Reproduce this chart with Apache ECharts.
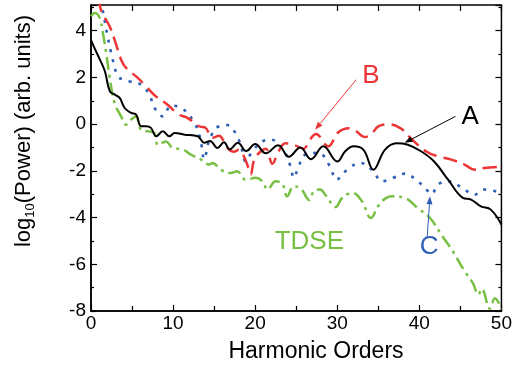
<!DOCTYPE html>
<html>
<head>
<meta charset="utf-8">
<script src="https://cdn.jsdelivr.net/npm/echarts@6/dist/echarts.min.js"></script>
<style>
  html, body { margin: 0; padding: 0; background: #fff; }
  #chart { width: 515px; height: 366px; }
</style>
</head>
<body>
<div id="chart"></div>
<script>
// curve A (solid black)
const orderA = [0, 0.5, 1.1, 1.7, 2.3, 2.9, 3.5, 4.1, 4.9, 5.5, 6.1, 6.7, 7.3, 7.95, 8.75, 9.55, 10.2, 11.4, 13.0, 13.8, 14.5, 15.4, 16.2, 16.9, 17.9, 18.9, 20.0, 21.3, 22.8, 24.1, 25.5, 26.8, 28.3, 30.0, 31.0, 32.0, 33.2, 34.4, 35.8, 37.2, 38.6, 40.2, 41.8, 43.5, 45.3, 46.3, 47.5, 48.7, 50];
const powerA = [3.6, 3.2, 2.75, 2.25, 1.4, 1.26, 1.12, 0.69, 0.48, 0.41, -0.09, -0.09, -0.16, -0.52, -0.31, -0.52, -0.38, -0.45, -0.52, -0.8, -0.72, -1.02, -0.78, -1.08, -0.8, -1.15, -0.85, -1.25, -0.9, -1.4, -1.0, -1.5, -0.95, -1.6, -1.15, -0.95, -1.1, -1.95, -1.1, -0.82, -0.88, -1.16, -1.6, -2.38, -3.16, -3.23, -3.52, -3.66, -4.3];

// curve B (red dashed)
const orderB = [1.0, 1.25, 2.26, 2.87, 3.67, 4.27, 5.7, 6.7, 7.9, 9.3, 10.7, 11.75, 13.15, 13.96, 14.8, 15.6, 16.2, 16.8, 17.4, 18.0, 18.9, 19.45, 19.9, 20.7, 21.3, 22.1, 22.8, 23.7, 24.8, 25.9, 26.6, 27.4, 28.9, 30.1, 31.4, 32.3, 33.3, 34.1, 35.0, 36.4, 37.8, 39.0, 40.8, 42.25, 43.9, 45.5, 46.7, 47.9, 50];
const powerB = [5.4, 4.85, 4.19, 3.62, 2.76, 2.41, 1.98, 1.62, 1.19, 0.84, 0.41, 0.27, -0.09, -0.16, -0.59, -0.5, -0.74, -1.09, -1.18, -1.1, -1.6, -2.15, -1.5, -1.16, -1.05, -1.7, -1.2, -0.82, -0.9, -1.05, -0.7, -0.42, -0.95, -0.36, -0.18, -0.3, -0.55, -0.45, -0.1, -0.01, -0.2, -0.62, -1.16, -1.38, -1.52, -1.73, -1.95, -1.88, -1.82];

// curve C (blue dotted)
const orderC = [1.2, 1.45, 2.06, 2.46, 3.27, 4.0, 4.7, 6.1, 7.1, 7.75, 8.75, 9.77, 11.2, 12.6, 13.3, 13.8, 14.3, 14.8, 15.2, 16.6, 17.8, 18.4, 18.85, 19.65, 20.9, 21.9, 23.5, 24.3, 24.7, 25.3, 26.1, 27.7, 29.1, 29.9, 31.2, 32.8, 34.4, 35.4, 36.8, 38.2, 39.6, 41.0, 41.5, 42.25, 43.5, 45.1, 46.7, 47.9, 50];
const powerC = [5.3, 4.83, 3.69, 3.05, 2.05, 1.9, 1.83, 1.69, 1.26, 0.69, 0.33, 0.79, 0.65, 0.05, -0.6, -1.5, -0.8, -0.38, -0.16, -0.04, -0.52, -1.1, -1.6, -1.16, -0.74, -0.66, -1.16, -1.8, -2.3, -1.8, -1.31, -1.23, -1.8, -2.38, -1.95, -1.66, -2.02, -2.45, -2.3, -2.12, -2.38, -2.85, -3.0, -2.59, -2.45, -2.69, -3.02, -2.8, -2.95];

// TDSE (green dash-dot)
const orderT = [0, 0.45, 1.05, 1.45, 1.85, 2.26, 2.87, 3.67, 4.27, 4.88, 5.48, 6.1, 7.1, 7.7, 8.2, 9.1, 9.96, 11.2, 12.2, 13.4, 14.4, 14.8, 15.8, 17.0, 17.8, 18.85, 20.1, 20.9, 21.5, 22.5, 23.3, 23.9, 24.7, 25.6, 26.6, 27.2, 27.9, 28.6, 29.8, 30.5, 31.2, 31.9, 33.0, 34.1, 35.0, 35.8, 36.6, 38.2, 39.9, 41.3, 42.8, 44.0, 45.4, 46.5, 47.2, 47.6, 48.6, 49.2, 50];
const powerT = [4.62, 4.76, 4.55, 3.9, 3.05, 2.05, 0.91, 0.33, -0.02, 0.19, 0.33, -0.24, -0.31, -0.38, -0.9, -0.74, -1.02, -1.09, -1.31, -1.52, -1.73, -1.66, -1.95, -2.09, -2.02, -2.38, -2.3, -2.45, -2.8, -2.45, -2.55, -3.09, -2.66, -2.78, -3.25, -2.85, -2.8, -3.05, -3.55, -3.2, -3.0, -2.95, -3.3, -4.02, -3.5, -3.2, -3.09, -3.16, -3.62, -4.02, -4.8, -5.4, -6.23, -6.8, -7.3, -7.05, -7.9, -7.45, -7.9];

const xTicks = [0, 10, 20, 30, 40, 50];
const yTicks = [-8, -6, -4, -2, 0, 2, 4];

const pairs = (xs, ys) => xs.map((x, i) => [x, ys[i]]);

const chart = echarts.init(document.getElementById('chart'));
const font = 'Liberation Sans, Arial, sans-serif';
const tickStyle = { color: '#000', width: 1.2 };

chart.setOption({
    animation: false,
    grid: { left: 91, right: 11, top: 5, bottom: 55, show: true, borderColor: '#000', borderWidth: 1.5 },
    xAxis: [
        { type: 'value', position: 'bottom', min: 0, max: 50, interval: 10,
          axisLine: { show: true, onZero: false, lineStyle: { color: '#000', width: 1.5 } },
          axisTick: { inside: true, length: 6, lineStyle: tickStyle },
          minorTick: { show: true, splitNumber: 2, length: 5, lineStyle: tickStyle },
          splitLine: { show: false },
          axisLabel: { color: '#000', fontSize: 19, fontFamily: font, margin: 3,
              formatter: v => (xTicks.indexOf(v) >= 0 ? String(v) : '') } },
        { type: 'value', position: 'top', min: 0, max: 50, interval: 5,
          axisLine: { show: false, onZero: false },
          axisTick: { inside: true, length: 6, lineStyle: tickStyle },
          splitLine: { show: false }, axisLabel: { show: false } }
    ],
    yAxis: [
        { type: 'value', position: 'left', min: -8, max: 5.1, interval: 2,
          axisLine: { show: true, onZero: false, lineStyle: { color: '#000', width: 1.5 } },
          axisTick: { inside: true, length: 6, lineStyle: tickStyle },
          minorTick: { show: true, splitNumber: 2, length: 3, lineStyle: tickStyle },
          splitLine: { show: false },
          axisLabel: { color: '#000', fontSize: 19, fontFamily: font, margin: 5,
              formatter: v => (yTicks.indexOf(v) >= 0 ? String(v) : '') } },
        { type: 'value', position: 'right', min: -8, max: 5.1, interval: 2,
          axisLine: { show: false, onZero: false },
          axisTick: { inside: true, length: 6, lineStyle: tickStyle },
          minorTick: { show: true, splitNumber: 2, length: 3, lineStyle: tickStyle },
          splitLine: { show: false }, axisLabel: { show: false } }
    ],
    series: [
        { name: 'TDSE', type: 'line', data: pairs(orderT, powerT), smooth: 0.4, showSymbol: false,
          lineStyle: { color: '#77c043', width: 2.5, type: [13, 5, 3, 5], cap: 'butt' } },
        { name: 'C', type: 'line', data: pairs(orderC, powerC), smooth: 0.4, showSymbol: false,
          lineStyle: { color: '#2e5fb4', width: 2.6, type: [3, 7], cap: 'butt' } },
        { name: 'B', type: 'line', data: pairs(orderB, powerB), smooth: 0.4, showSymbol: false,
          lineStyle: { color: '#ee3535', width: 2.5, type: [14, 7], cap: 'butt' } },
        { name: 'A', type: 'line', data: pairs(orderA, powerA), smooth: 0.4, showSymbol: false,
          lineStyle: { color: '#000', width: 2 } }
    ]
});

// annotations in data coordinates
const notes = [
    { text: 'B', color: '#ee3535', at: [34.1, 2.05], from: [32.3, 1.9], to: [27.3, -0.24] },
    { text: 'A', color: '#000', at: [46.2, 0.33], from: [44.4, 0.33], to: [38.2, -0.8] },
    { text: 'C', color: '#2e5fb4', at: [41.2, -5.25], from: [40.96, -4.8], to: [41.3, -3.09] },
    { text: 'TDSE', color: '#77c043', at: [26.6, -5.05] }
];

const px = p => chart.convertToPixel({ xAxisIndex: 0, yAxisIndex: 0 }, p);
const graphics = [];
notes.forEach(n => {
    const c = px(n.at);
    graphics.push({ type: 'text', x: c[0], y: c[1], z: 10,
        style: { text: n.text, fill: n.color, font: '26px ' + font, textAlign: 'center', textVerticalAlign: 'middle' } });
    if (n.from) {
        const a = px(n.from), b = px(n.to);
        const ang = Math.atan2(b[1] - a[1], b[0] - a[0]);
        const L = 8, W = 3;
        const bx = b[0] - L * Math.cos(ang), by = b[1] - L * Math.sin(ang);
        graphics.push({ type: 'line', z: 10, shape: { x1: a[0], y1: a[1], x2: bx, y2: by },
            style: { stroke: n.color, lineWidth: 1 } });
        graphics.push({ type: 'polygon', z: 10, shape: { points: [
            [b[0], b[1]],
            [bx + W * Math.sin(ang), by - W * Math.cos(ang)],
            [bx - W * Math.sin(ang), by + W * Math.cos(ang)]
        ] }, style: { fill: n.color } });
    }
});

// axis titles
graphics.push({ type: 'text', x: 316, y: 352, z: 10,
    style: { text: 'Harmonic Orders', fill: '#000', font: '23px ' + font, textAlign: 'center', textVerticalAlign: 'middle' } });
graphics.push({ type: 'text', x: 24, y: 131, rotation: Math.PI / 2, z: 10,
    style: { text: 'log{sub|10}(Power) (arb. units)', fill: '#000', font: '22px ' + font,
        textAlign: 'center', textVerticalAlign: 'middle',
        rich: { sub: { fontSize: 13, fontFamily: font, fill: '#000', padding: [12, 0, 0, 0], verticalAlign: 'bottom' } } } });

chart.setOption({ graphic: graphics });
</script>
</body>
</html>
